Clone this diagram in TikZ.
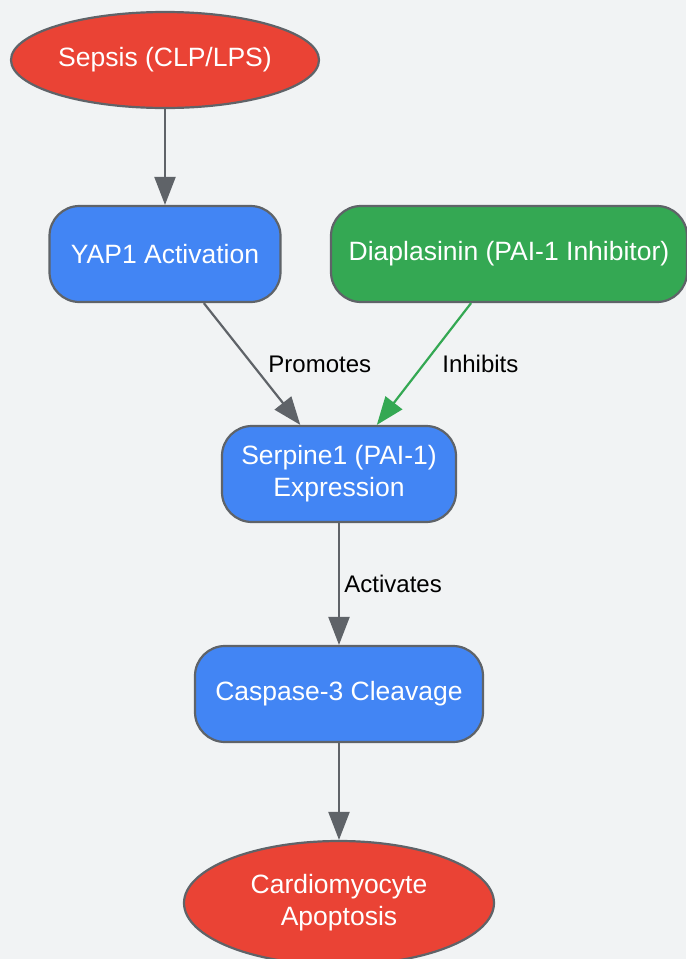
\documentclass[tikz,border=0pt]{standalone}
\usepackage{fontspec}
\setmainfont{Liberation Sans}
\usetikzlibrary{arrows.meta}
\usetikzlibrary{shapes.geometric}
\usetikzlibrary{positioning}

\definecolor{sepsisred}{HTML}{EA4335}
\definecolor{pathblue}{HTML}{4285F4}
\definecolor{druggreen}{HTML}{34A853}
\definecolor{edgegray}{HTML}{5F6368}
\definecolor{bggray}{HTML}{F1F3F4}

\begin{document}
\begin{tikzpicture}
	[
	x = 1pt, y = -1pt,
	> = {Triangle[length=28pt,width=21pt]},
	every node/.style = {font=\fontsize{26.5}{32}\selectfont},
	event/.style = {draw=edgegray, line width=2.2pt, fill=sepsisred, text=white, ellipse, inner sep=0pt, align=center},
	step box/.style = {draw=edgegray, line width=2.2pt, fill=pathblue, text=white, rectangle, rounded corners=30pt, minimum height=96pt, inner sep=0pt, align=center},
	link/.style = {->, draw=edgegray, line width=2.2pt},
	tag/.style = {text=black, font=\fontsize{24}{28}\selectfont}
	]
		\fill[bggray] (0,0) rectangle (686,959);
		\useasboundingbox (0,0) rectangle (686,959);

		\node[event, minimum width=308pt, minimum height=96pt] (sepsis) at (165,60) {Sepsis (CLP/LPS)};
		\node[step box, minimum width=231pt] (yap) at (165,254) {YAP1 Activation};
		\node[step box, fill=druggreen, minimum width=356pt] (drug) at (509,254) {Diaplasinin (PAI-1 Inhibitor)};
		\node[step box, minimum width=234pt] (serpine) at (339,474) {Serpine1 (PAI-1)\\Expression};
		\node[step box, minimum width=288pt] (casp) at (339,694) {Caspase-3 Cleavage};
		\node[event, minimum width=310pt, minimum height=124pt] (apop) at (339,903) {Cardiomyocyte\\Apoptosis};

		\draw[link] (sepsis) -- (yap);
		\draw[link] (yap) -- node[tag, right, xshift=12pt] {Promotes} (serpine);
		\draw[link, draw=druggreen, -{Triangle[length=28pt,width=21pt,fill=druggreen]}] (drug) -- node[tag, right, xshift=14pt] {Inhibits} (serpine);
		\draw[link] (serpine) -- node[tag, right, xshift=1pt] {Activates} (casp);
		\draw[link] (casp) -- (apop);

	\end{tikzpicture}
\end{document}
